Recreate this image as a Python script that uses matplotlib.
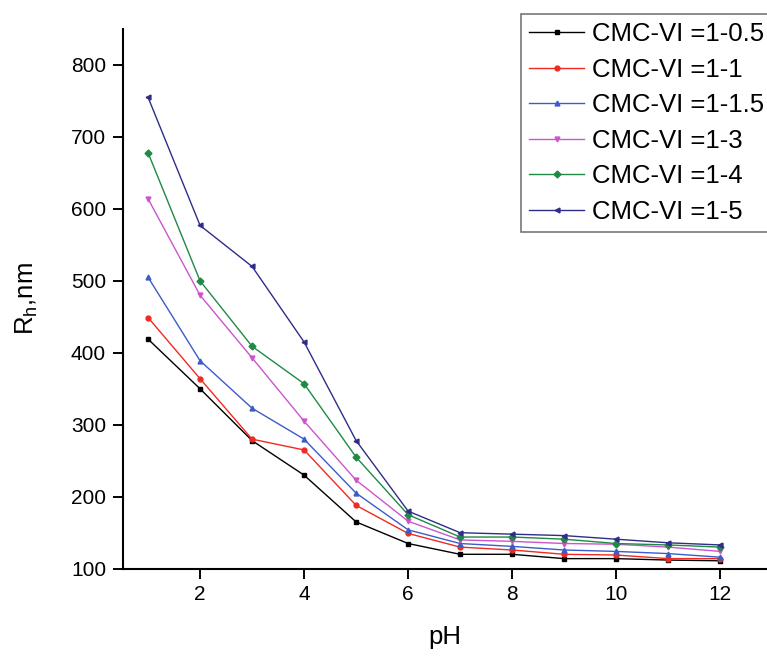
import matplotlib
matplotlib.use("Agg")
import matplotlib.pyplot as plt

plt.rcParams['font.family'] = ['Liberation Sans', 'DejaVu Sans']
plt.rcParams['mathtext.default'] = 'regular'

# pH values and hydrodynamic radius for each CMC-VI ratio
ph = [1, 2, 3, 4, 5, 6, 7, 8, 9, 10, 11, 12]
rh_05 = [419, 350, 278, 230, 165, 135, 120, 120, 114, 114, 112, 111]
rh_1 = [449, 364, 280, 265, 188, 149, 130, 126, 120, 119, 114, 114]
rh_15 = [505, 389, 323, 280, 205, 154, 135, 131, 126, 124, 121, 116]
rh_3 = [614, 480, 393, 305, 223, 166, 140, 138, 135, 134, 130, 124]
rh_4 = [678, 500, 409, 357, 255, 175, 144, 144, 141, 135, 133, 130]
rh_5 = [755, 577, 520, 415, 278, 180, 150, 148, 146, 141, 136, 133]

labels = ['CMC-VI =1-0.5', 'CMC-VI =1-1', 'CMC-VI =1-1.5',
          'CMC-VI =1-3', 'CMC-VI =1-4', 'CMC-VI =1-5']
colors = ['#000000', '#f02a22', '#3c5cc8', '#cc55cc', '#1f8a45', '#2e2e88']
markers = ['s', 'o', '^', 'v', 'D', '<']
series = [rh_05, rh_1, rh_15, rh_3, rh_4, rh_5]

fig = plt.figure(figsize=(7.67, 6.57), dpi=100)
ax = fig.add_axes([0.16, 0.1344, 0.84, 0.8215])

for vals, lab, c, m in zip(series, labels, colors, markers):
    ax.plot(ph, vals, color=c, marker=m, markersize=3.5, linewidth=1.0, label=lab)

ax.set_xlim(0.513, 12.9)
ax.set_ylim(100, 850)
ax.set_xticks([2, 4, 6, 8, 10, 12])
ax.set_yticks([100, 200, 300, 400, 500, 600, 700, 800])

for s in ['top', 'right']:
    ax.spines[s].set_visible(False)
for s in ['left', 'bottom']:
    ax.spines[s].set_linewidth(1.5)

ax.tick_params(direction='out', length=7, width=1.4, labelsize=15, pad=5)

ax.set_xlabel('pH', fontsize=18.5, labelpad=15)
ax.set_ylabel('R$_h$,nm', fontsize=18.5, labelpad=22)

leg = ax.legend(loc='upper left', bbox_to_anchor=(521 / 767, 1 - 14 / 657),
                bbox_transform=fig.transFigure, fontsize=18.5, frameon=True,
                fancybox=False, handlelength=2.15, handletextpad=0.28,
                labelspacing=0.45, borderpad=0.32, borderaxespad=0)
leg.get_frame().set_edgecolor('#555555')
leg.get_frame().set_linewidth(1.2)

fig.savefig('out.png', dpi=100)
